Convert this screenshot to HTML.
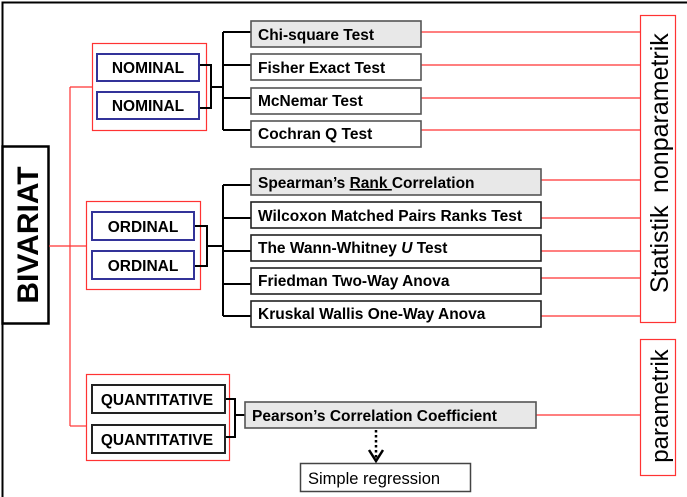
<!DOCTYPE html>
<html><head><meta charset="utf-8"><style>
html,body{margin:0;padding:0;background:#fff}
svg{display:block}
text{font-family:"Liberation Sans",Arial,sans-serif}
.b{font-weight:bold;font-size:15.5px}
</style></head><body>
<svg width="687" height="497" viewBox="0 0 687 497" xmlns="http://www.w3.org/2000/svg">
<path d="M2.5 497 V2.5 H687" fill="none" stroke="#000" stroke-width="2"/>
<rect x="2.5" y="146.5" width="46" height="177" fill="#fff" stroke="#000" stroke-width="2.5"/>
<text x="0" y="0" transform="translate(38,235) rotate(-90)" text-anchor="middle" font-weight="bold" font-size="30">BIVARIAT</text>
<g stroke="#f33" stroke-width="1.2" fill="none">
<path d="M70 87 V426"/>
<path d="M70 87 H92"/>
<path d="M49 246 H86"/>
<path d="M70 426 H86"/>
<rect x="92.5" y="43.5" width="114" height="87"/>
<rect x="86.5" y="201.5" width="114" height="88"/>
<rect x="86.5" y="374.5" width="143" height="86"/>
<rect x="640.5" y="15.5" width="35" height="307"/>
<rect x="640.5" y="339.5" width="35" height="136"/>
<path d="M421 32 H640 M421 65 H640 M421 98 H640 M421 130 H640"/>
<path d="M541 180 H640 M541 218 H640 M541 251 H640 M541 278 H640 M541 316 H640"/>
<path d="M536 415 H640"/>
</g>
<text transform="translate(668,293) rotate(-90)" font-size="25">Statistik</text>
<text transform="translate(668,193) rotate(-90)" font-size="25">nonparametrik</text>
<text transform="translate(668,406) rotate(-90)" text-anchor="middle" font-size="24">parametrik</text>
<g stroke="#000" stroke-width="2" fill="none">
<path d="M199 65 H211 V108 H199 M211 87 H223 M223 32 V130 M223 32 H251 M223 65 H251 M223 98 H251 M223 130 H251"/>
<path d="M194 226 H207 V266 H194 M207 246 H223 M223 185 V316 M223 185 H251 M223 218 H251 M223 251 H251 M223 284 H251 M223 316 H251"/>
<path d="M225 399 H235 V437 H225 M235 415 H245"/>
</g>
<g fill="#fff" stroke="#339" stroke-width="2">
<rect x="97" y="54" width="102" height="27"/>
<rect x="97" y="92" width="102" height="27"/>
<rect x="92" y="212" width="102" height="28"/>
<rect x="92" y="251" width="102" height="28"/>
</g>
<g fill="#fff" stroke="#222" stroke-width="2">
<rect x="92" y="385" width="133" height="28"/>
<rect x="92" y="425" width="133" height="28"/>
</g>
<g class="b" text-anchor="middle">
<text x="148" y="73">NOMINAL</text>
<text x="148" y="111">NOMINAL</text>
<text x="143" y="232">ORDINAL</text>
<text x="143" y="271">ORDINAL</text>
<text x="157" y="405">QUANTITATIVE</text>
<text x="157" y="445">QUANTITATIVE</text>
</g>
<g stroke="#555" stroke-width="1.6">
<rect x="251" y="21" width="170" height="26" fill="#e8e8e8"/>
<rect x="251" y="54" width="170" height="26" fill="#fff"/>
<rect x="251" y="88" width="170" height="26" fill="#fff"/>
<rect x="251" y="121" width="170" height="26" fill="#fff"/>
<rect x="251" y="169" width="290" height="26" fill="#e8e8e8"/>
<rect x="251" y="202" width="290" height="26" fill="#fff" stroke="#222"/>
<rect x="251" y="235" width="290" height="26" fill="#fff" stroke="#222"/>
<rect x="251" y="268" width="290" height="26" fill="#fff" stroke="#222"/>
<rect x="251" y="301" width="290" height="26" fill="#fff" stroke="#222"/>
<rect x="245" y="402" width="291" height="26" fill="#e8e8e8"/>
</g>
<g class="b">
<text x="258" y="40">Chi-square Test</text>
<text x="258" y="73">Fisher Exact Test</text>
<text x="258" y="106">McNemar Test</text>
<text x="258" y="139">Cochran Q Test</text>
<text x="258" y="188">Spearman’s <tspan text-decoration="underline">Rank </tspan>Correlation</text>
<text x="258" y="221">Wilcoxon Matched Pairs Ranks Test</text>
<text x="258" y="253">The Wann-Whitney <tspan font-style="italic">U</tspan> Test</text>
<text x="258" y="286">Friedman Two-Way Anova</text>
<text x="258" y="319">Kruskal Wallis One-Way Anova</text>
<text x="252" y="421">Pearson’s Correlation Coefficient</text>
</g>
<path d="M376 430 V458" stroke="#000" stroke-width="2.5" stroke-dasharray="2.5,2.5"/>
<path d="M369 450 L376 461 L383 450" stroke="#000" stroke-width="2.5" fill="none"/>
<rect x="300.5" y="463.5" width="170" height="28" fill="#fff" stroke="#444" stroke-width="1.5"/>
<text x="308" y="484" font-size="16.5">Simple regression</text>
</svg>
</body></html>
